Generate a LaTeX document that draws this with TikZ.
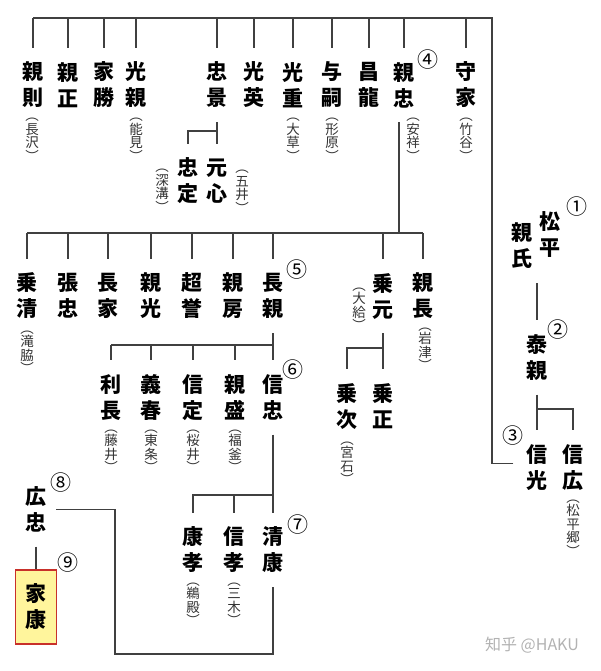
\documentclass[tikz,border=0pt]{standalone}
\usepackage{fontspec}
\newfontfamily\jp{Noto Sans CJK JP}
\definecolor{heirfill}{HTML}{FFF59C}
\definecolor{heirline}{HTML}{C8302A}
\newcommand\place[2]{︵\\#1\\#2\\︶}

\begin{document}
\begin{tikzpicture}[
  x=1pt, y=-1pt,
  person/.style={font=\jp\bfseries\fontsize{21}{26}\selectfont, align=center,
                 minimum height=74pt, inner xsep=2pt, inner ysep=0pt},
  anno/.style={font=\jp\fontsize{13.5}{13.5}\selectfont, align=center,
               text=black!80, inner sep=0pt},
  num/.style={font=\jp\fontsize{21}{21}\selectfont, inner sep=0pt},
  link/.style={draw=black!75, line width=1.2pt},
  heir/.style={person, draw=heirline, line width=1.5pt, fill=heirfill,
               minimum width=41pt}
]
\useasboundingbox (0,0) rectangle (600,671);

% founder line
\node[person] (matsudaira) at (550,235)   {松\\平};
\node[person] (chikauji)   at (522,246)   {親\\氏};
\node[person] (yasuchika)  at (537,357.5) {泰\\親};
\node[person] (nobumitsu)  at (537,467.5) {信\\光};
\node[person] (nobuhiro)   at (573,467.5) {信\\広};

% children of nobumitsu
\node[person] (chikanori)  at (33,85)  {親\\則};
\node[person] (chikamasa)  at (68,85)  {親\\正};
\node[person] (iekatsu)    at (104,85) {家\\勝};
\node[person] (mitsuchika) at (136,85) {光\\親};
\node[person] (tadakage)   at (217,85) {忠\\景};
\node[person] (mitsuhide)  at (254,85) {光\\英};
\node[person] (mitsushige) at (293,85) {光\\重};
\node[person] (yotsugu)    at (332,85) {与\\嗣};
\node[person] (masatatsu)  at (369,85) {昌\\龍};
\node[person] (chikatada)  at (404,85) {親\\忠};
\node[person] (moriie)     at (466,85) {守\\家};

\node[person] (tadasada) at (188,181) {忠\\定};
\node[person] (genshin)  at (217,181) {元\\心};

% children of chikatada
\node[person] (norikiyo)   at (27,296)  {乗\\清};
\node[person] (harutada)   at (68,296)  {張\\忠};
\node[person] (nagaie)     at (108,296) {長\\家};
\node[person] (chikamitsu) at (151,296) {親\\光};
\node[person] (chouyo)     at (192,296) {超\\誉};
\node[person] (chikafusa)  at (233,296) {親\\房};
\node[person] (nagachika)  at (273,296) {長\\親};
\node[person] (norimoto)   at (383,296) {乗\\元};
\node[person] (chikanaga)  at (423,296) {親\\長};

\node[person] (noritsugu) at (347,406.5) {乗\\次};
\node[person] (norimasa)  at (383,406.5) {乗\\正};

% children of nagachika
\node[person] (toshinaga)  at (111,397.5) {利\\長};
\node[person] (yoshiharu)  at (151,397.5) {義\\春};
\node[person] (nobusada)   at (193,397.5) {信\\定};
\node[person] (chikamori)  at (235,397.5) {親\\盛};
\node[person] (nobutada)   at (273,397.5) {信\\忠};

\node[person] (yasutaka)  at (193,550) {康\\孝};
\node[person] (nobutaka)  at (234,550) {信\\孝};
\node[person] (kiyoyasu)  at (273,550) {清\\康};

\node[person] (hirotada) at (36,509.5) {広\\忠};
\node[heir]   (ieyasu)   at (36,607)   {家\\康};

% places
\node[anno] (nagasawa)     at (32,140)  {\place{長}{沢}};
\node[anno] (nomi)         at (136,140) {\place{能}{見}};
\node[anno] (ogusa)        at (293,140) {\place{大}{草}};
\node[anno] (katahara)     at (332,140) {\place{形}{原}};
\node[anno] (anjo)         at (413,140) {\place{安}{祥}};
\node[anno] (takenoya)     at (466,140) {\place{竹}{谷}};
\node[anno] (goi)          at (242,192) {\place{五}{井}};
\node[anno] (fukozu)       at (162,191) {\place{深}{溝}};
\node[anno] (takiwaki)     at (27,352)  {\place{滝}{脇}};
\node[anno] (ogyu)         at (359,309) {\place{大}{給}};
\node[anno] (iwazu)        at (425,349) {\place{岩}{津}};
\node[anno] (miyaishi)     at (347,463) {\place{宮}{石}};
\node[anno] (fujii)        at (111,451) {\place{藤}{井}};
\node[anno] (tojo)         at (151,451) {\place{東}{条}};
\node[anno] (sakurai)      at (193,451) {\place{桜}{井}};
\node[anno] (fukama)       at (235,451) {\place{福}{釜}};
\node[anno] (udono)        at (193,604) {\place{鵜}{殿}};
\node[anno] (miki)         at (234,604) {\place{三}{木}};
\node[anno] (matsudairago) at (573,528) {︵\\松\\平\\郷\\︶};

% generation numbers
\node[num] (n1) at (577,207) {①};
\node[num] (n2) at (558,330) {②};
\node[num] (n3) at (513,436) {③};
\node[num] (n4) at (428,60)  {④};
\node[num] (n5) at (297,270) {⑤};
\node[num] (n6) at (293,370) {⑥};
\node[num] (n7) at (298,525) {⑦};
\node[num] (n8) at (61,483)  {⑧};
\node[num] (n9) at (68,563)  {⑨};

% bars
\coordinate (topbar) at (0,18);
\coordinate (nmX)    at (492,0);
\coordinate (bar1b)  at (0,131);
\coordinate (bar2)   at (0,233);
\coordinate (bar3)   at (0,345);
\coordinate (bar3b)  at (0,348);
\coordinate (bar4)   at (0,495);
\coordinate (barY)   at (0,409);
\coordinate (kyB)    at (115,654);

\draw[link] (yasuchika.north |- chikauji.south) -- (yasuchika.north);
\draw[link] (yasuchika.south) -- (yasuchika.south |- barY) -| (nobuhiro.north);
\draw[link] (nobumitsu.north |- barY) -- (nobumitsu.north);

\draw[link] ([shift={(-11pt,4pt)}]nobumitsu.west) -| (nmX |- topbar)
  -- (chikanori.north |- topbar);
\foreach \c in {chikanori,chikamasa,iekatsu,mitsuchika,tadakage,mitsuhide,
                mitsushige,yotsugu,masatatsu,chikatada,moriie}
  \draw[link] (\c.north |- topbar) -- (\c.north);

\draw[link] (tadakage.south) -- (tadakage.south |- bar1b) -| (tadasada.north);
\draw[link] (genshin.north |- bar1b) -- (genshin.north);

\draw[link] ([xshift=-5pt]chikatada.south) -- ([xshift=-5pt]chikatada.south |- bar2);
\draw[link] (norikiyo.north |- bar2) -- (chikanaga.north |- bar2);
\foreach \c in {norikiyo,harutada,nagaie,chikamitsu,chouyo,chikafusa,
                nagachika,norimoto,chikanaga}
  \draw[link] (\c.north |- bar2) -- (\c.north);

\draw[link] (norimoto.south) -- (norimoto.south |- bar3b) -| (noritsugu.north);
\draw[link] (norimasa.north |- bar3b) -- (norimasa.north);

\draw[link] (nagachika.south) -- (nagachika.south |- bar3);
\draw[link] (toshinaga.north |- bar3) -- (nobutada.north |- bar3);
\foreach \c in {toshinaga,yoshiharu,nobusada,chikamori,nobutada}
  \draw[link] (\c.north |- bar3) -- (\c.north);

\draw[link] (nobutada.south) -- (nobutada.south |- bar4) -| (yasutaka.north);
\foreach \c in {nobutaka,kiyoyasu}
  \draw[link] (\c.north |- bar4) -- (\c.north);

\draw[link] (kiyoyasu.south) |- (kyB) |- ([xshift=7pt]hirotada.east);
\draw[link] (hirotada.south) -- (ieyasu.north);

\node[font=\jp\fontsize{16}{16}\selectfont, text=black!30] (mark) at (532,645) {知乎 @HAKU};
\end{tikzpicture}
\end{document}
